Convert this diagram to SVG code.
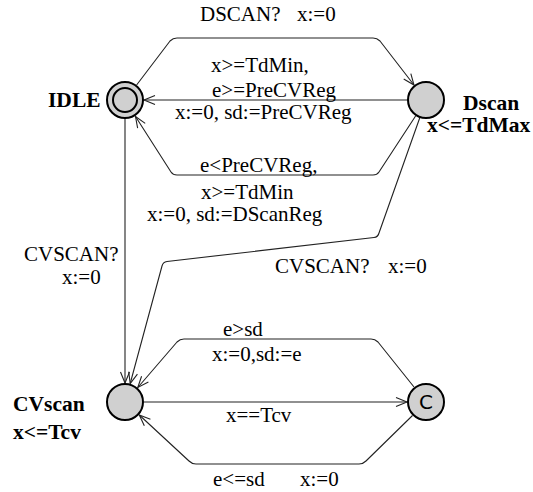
<svg xmlns="http://www.w3.org/2000/svg" width="533" height="492" viewBox="0 0 533 492">
<style>
.e{fill:none;stroke:#222;stroke-width:1.1;marker-end:url(#a)}
.n{fill:#d0d0d0;stroke:#000;stroke-width:2}
.t{font-family:"Liberation Serif","Times New Roman",serif;font-size:21px;fill:#000}
.b{font-family:"Liberation Serif","Times New Roman",serif;font-size:21.5px;font-weight:bold;fill:#000}
</style>
<defs>
<marker id="a" markerWidth="14" markerHeight="12" refX="0" refY="0" viewBox="-12 -6 14 12" orient="auto" markerUnits="userSpaceOnUse">
<path d="M-11,-4.5 L0,0 L-11,4.5" fill="none" stroke="#222" stroke-width="1.1"/>
</marker>
</defs>
<rect width="533" height="492" fill="#fff"/>
<g id="connectors">
<path class="e" d="M136.6,85 L170,41 Q173,38 177,38 L373,38 Q377,38 380,41 L414,85"/>
<path class="e" d="M407,100 L144,100"/>
<path class="e" d="M415.6,116 L379,172 Q377,175 373,175 L177,175 Q173,175 171,172 L135.5,116.5"/>
<path class="e" d="M125,119 L125,383"/>
<path class="e" d="M419.7,118 L379,233 Q378,237 374,237.5 L167,261.5 Q163,262 162,266 L130.2,383.5"/>
<path class="e" d="M414,387 L378,342 Q375,339 371,339 L184,339 Q180,339 177,342 L137.8,387.5"/>
<path class="e" d="M144,402 L407,402"/>
<path class="e" d="M412.5,415.5 L366,461 Q363,464 359,464 L196,464 Q192,464 189,461 L139.3,415"/>
</g>
<g id="IDLE">
<circle class="n" cx="125" cy="100" r="18"/>
<circle cx="125" cy="100" r="12" fill="none" stroke="#000" stroke-width="2"/>
<text class="b" x="48" y="107">IDLE</text>
</g>
<g id="Dscan">
<circle class="n" cx="426" cy="100" r="18"/>
<text class="b" x="463" y="110">Dscan</text>
<text class="b" x="427" y="132">x&lt;=TdMax</text>
</g>
<g id="CVscan">
<circle class="n" cx="125" cy="402" r="18"/>
<text class="b" x="13" y="411">CVscan</text>
<text class="b" x="13" y="439">x&lt;=Tcv</text>
</g>
<g id="Committed">
<circle class="n" cx="426" cy="402" r="18"/>
<text x="426" y="409" text-anchor="middle" font-family="'DejaVu Sans',sans-serif" font-size="20" fill="#000">C</text>
</g>
<g id="labels">
<text class="t" x="200" y="21">DSCAN?</text>
<text class="t" x="297" y="21">x:=0</text>
<text class="t" x="211" y="72">x&gt;=TdMin,</text>
<text class="t" x="212" y="97">e&gt;=PreCVReg</text>
<text class="t" x="175" y="119">x:=0, sd:=PreCVReg</text>
<text class="t" x="200" y="172">e&lt;PreCVReg,</text>
<text class="t" x="201" y="199">x&gt;=TdMin</text>
<text class="t" x="147" y="221">x:=0, sd:=DScanReg</text>
<text class="t" x="24" y="261">CVSCAN?</text>
<text class="t" x="62" y="284">x:=0</text>
<text class="t" x="275" y="273">CVSCAN?</text>
<text class="t" x="388" y="273">x:=0</text>
<text class="t" x="223" y="336">e&gt;sd</text>
<text class="t" x="212" y="361">x:=0,sd:=e</text>
<text class="t" x="226" y="422">x==Tcv</text>
<text class="t" x="213" y="486">e&lt;=sd</text>
<text class="t" x="300" y="486">x:=0</text>
</g>
</svg>
